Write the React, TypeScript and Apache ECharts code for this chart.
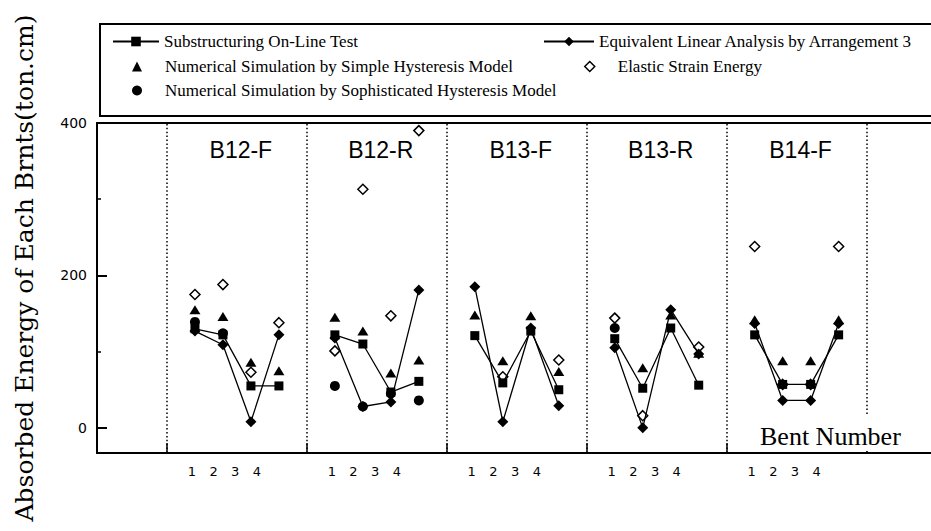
import React, { useEffect, useRef } from 'react';
import * as echarts from 'echarts';

// ---- data ----
const panels = ['B12-F', 'B12-R', 'B13-F', 'B13-R', 'B14-F'];
const bentTicks = ['1', '2', '3', '4'];
const yLabelValues = [0, 200, 400];
const yMinorValues = [100, 300];

const substructuring = [130, 122, 55, 55, 122, 110, 47, 61, 121, 59, 127, 50, 117, 52, 131, 56, 122, 57, 57, 122];
const equivalentLinear = [127, 109, 8, 122, 118, 28, 34, 181, 185, 8, 131, 29, 105, 0, 155, 97, 137, 36, 36, 137];
const simpleHysteresis = [155, 146, 86, 75, 145, 127, 72, 89, 148, 88, 147, 74, null, 79, 148, 98, 142, 88, 88, 142];
const sophisticated = [139, 124, null, null, 55, 28, 45, 36, null, null, null, null, 131, null, null, null, null, null, null, null];
const elasticStrain = [175, 188, 73, 138, 101, 313, 147, 390, null, 67, null, 89, 144, 16, null, 106, 238, 57, 57, 238];

const names = {
  sub: 'Substructuring On-Line Test',
  eq: 'Equivalent Linear Analysis by Arrangement 3',
  simple: 'Numerical Simulation by Simple Hysteresis Model',
  elastic: 'Elastic Strain Energy',
  soph: 'Numerical Simulation by Sophisticated Hysteresis Model',
};

// ---- layout constants ----
const PANEL = 5;
const TICK_START = 0.89;
const TICK_STEP = 0.775;
const PANEL_LABEL_OFFSET = 2.64;
const X_MIN = -2.5;
const X_MAX = 27.3;
const Y_MIN = -33;
const Y_MAX = 400;

const xOf = (i: number) => Math.floor(i / 4) * PANEL + (i % 4) + 1;

const lineData = (arr: (number | null)[]) => {
  const out: any[] = [];
  arr.forEach((v, i) => {
    out.push([xOf(i), v == null ? '-' : v]);
    if (i % 4 === 3) out.push([Math.floor(i / 4) * PANEL + 4.5, '-']);
  });
  return out;
};
const scatterData = (arr: (number | null)[]) =>
  arr.map((v, i) => (v == null ? null : [xOf(i), v])).filter((d) => d != null);

const boundaries = panels.map((_, p) => p * PANEL).concat([panels.length * PANEL]);
const bentTickValues: number[] = [];
panels.forEach((_, p) => bentTicks.forEach((_, k) => bentTickValues.push(p * PANEL + TICK_START + TICK_STEP * k)));
const panelLabelValues = panels.map((_, p) => p * PANEL + PANEL_LABEL_OFFSET);

export default function App() {
  const ref = useRef<HTMLDivElement>(null);
  useEffect(() => {
    if (!ref.current) return;
    const chart = echarts.init(ref.current, undefined, { renderer: 'svg' });
    const black = '#000';
    const legendText = { fontFamily: 'Liberation Serif', fontSize: 17, color: black };
    const legendTextPad = { ...legendText, padding: [0, 0, 0, 18] };
    chart.setOption({
      animation: false,
      backgroundColor: '#fff',
      grid: { left: 97, right: 0, top: 123, bottom: 78 },
      xAxis: [
        {
          type: 'value',
          min: X_MIN,
          max: X_MAX,
          position: 'bottom',
          axisLine: { show: true, onZero: false, lineStyle: { color: black, width: 2 } },
          axisTick: { show: true, inside: true, length: 10, customValues: boundaries, lineStyle: { color: black, width: 1.5 } },
          axisLabel: {
            show: true,
            customValues: bentTickValues,
            margin: 12,
            color: black,
            fontFamily: 'DejaVu Sans',
            fontSize: 13,
            formatter: (val: number) => {
              const k = Math.round(((val % PANEL) - TICK_START) / TICK_STEP);
              return bentTicks[k] ?? '';
            },
          },
          splitLine: { show: false },
        },
        {
          type: 'value',
          min: X_MIN,
          max: X_MAX,
          position: 'top',
          axisLine: { show: true, onZero: false, lineStyle: { color: black, width: 2 } },
          axisTick: { show: false },
          axisLabel: {
            show: true,
            inside: true,
            customValues: panelLabelValues,
            margin: 15,
            color: black,
            fontFamily: 'Liberation Sans',
            fontSize: 23,
            formatter: (val: number) => panels[Math.floor(val / PANEL)] ?? '',
          },
          splitLine: { show: false },
        },
      ],
      yAxis: [
        {
          type: 'value',
          min: Y_MIN,
          max: Y_MAX,
          position: 'left',
          axisLine: { show: true, onZero: false, lineStyle: { color: black, width: 2 } },
          axisTick: { show: true, inside: true, length: 10, customValues: yLabelValues, lineStyle: { color: black, width: 2 } },
          axisLabel: { show: true, customValues: yLabelValues, margin: 10, color: black, fontFamily: 'DejaVu Sans', fontSize: 14 },
          splitLine: { show: false },
        },
        {
          type: 'value',
          min: Y_MIN,
          max: Y_MAX,
          position: 'left',
          offset: 0,
          axisLine: { show: false, onZero: false },
          axisTick: { show: true, inside: true, length: 4, customValues: yMinorValues, lineStyle: { color: black, width: 1.5 } },
          axisLabel: { show: false },
          splitLine: { show: false },
        },
      ],
      legend: [
        { left: 112, top: 33, padding: 0, itemWidth: 46, itemHeight: 12, data: [names.sub], textStyle: legendText, selectedMode: false },
        { left: 543, top: 33, padding: 0, itemWidth: 50, itemHeight: 12, data: [names.eq], textStyle: legendText, selectedMode: false },
        {
          left: 132, top: 58, padding: 0, itemWidth: 10, itemHeight: 10,
          data: [{ name: names.simple, icon: 'triangle' }], textStyle: legendTextPad, selectedMode: false,
          itemStyle: { color: black, opacity: 1 },
        },
        {
          left: 584, top: 58, padding: 0, itemWidth: 10, itemHeight: 10,
          data: [{ name: names.elastic, icon: 'diamond' }], textStyle: legendTextPad, selectedMode: false,
          itemStyle: { color: '#fff', borderColor: black, borderWidth: 1.5, opacity: 1 },
        },
        {
          left: 132, top: 82, padding: 0, itemWidth: 10, itemHeight: 10,
          data: [{ name: names.soph, icon: 'circle' }], textStyle: legendTextPad, selectedMode: false,
          itemStyle: { color: black, opacity: 1 },
        },
      ],
      series: [
        {
          name: names.soph,
          type: 'scatter',
          symbol: 'circle',
          symbolSize: 10,
          itemStyle: { color: black, opacity: 1 },
          data: scatterData(sophisticated),
          silent: true,
        },
        {
          name: names.sub,
          type: 'line',
          symbol: 'rect',
          symbolSize: 9,
          showSymbol: true,
          connectNulls: false,
          itemStyle: { color: black, borderWidth: 0 },
          lineStyle: { color: black, width: 1.3 },
          data: lineData(substructuring),
          silent: true,
          markLine: {
            silent: true,
            symbol: ['none', 'none'],
            label: { show: false },
            lineStyle: { color: black, type: [1.5, 2.4], width: 1.5 },
            data: boundaries.map((v) => ({ xAxis: v })),
          },
        },
        {
          name: names.simple,
          type: 'scatter',
          symbol: 'triangle',
          symbolSize: [11, 9],
          itemStyle: { color: black, opacity: 1 },
          data: scatterData(simpleHysteresis),
          silent: true,
        },
        {
          name: names.eq,
          type: 'line',
          symbol: 'diamond',
          symbolSize: 11,
          showSymbol: true,
          connectNulls: false,
          itemStyle: { color: black, borderWidth: 0 },
          lineStyle: { color: black, width: 1.3 },
          data: lineData(equivalentLinear),
          silent: true,
        },
        {
          name: names.elastic,
          type: 'scatter',
          symbol: 'diamond',
          symbolSize: 10,
          itemStyle: { color: '#fff', borderColor: black, borderWidth: 1.5, opacity: 1 },
          data: scatterData(elasticStrain),
          silent: true,
        },
      ],
      graphic: [
        {
          type: 'rect',
          z: 100,
          shape: { x: 100, y: 24, width: 845, height: 92 },
          style: { fill: 'none', stroke: black, lineWidth: 2 },
          silent: true,
        },
        {
          type: 'text',
          z: 100,
          x: 24,
          y: 268,
          rotation: Math.PI / 2,
          style: {
            text: 'Absorbed Energy of Each Brnts(ton.cm)',
            font: '25px "DejaVu Serif"',
            fill: black,
            align: 'center',
            verticalAlign: 'middle',
            textAlign: 'center',
            textVerticalAlign: 'middle',
          },
          silent: true,
        },
        {
          type: 'rect',
          z: 100,
          shape: { x: 755, y: 416, width: 158, height: 35 },
          style: { fill: '#fff' },
          silent: true,
        },
        {
          type: 'text',
          z: 101,
          x: 760,
          y: 436,
          style: {
            text: 'Bent Number',
            font: '26px "Liberation Serif"',
            fill: black,
            align: 'left',
            verticalAlign: 'middle',
            textAlign: 'left',
            textVerticalAlign: 'middle',
          },
          silent: true,
        },
      ],
    });
    return () => chart.dispose();
  }, []);
  return <div ref={ref} style={{ position: 'fixed', left: 0, top: 0, width: 931, height: 531, background: '#fff' }} />;
}
